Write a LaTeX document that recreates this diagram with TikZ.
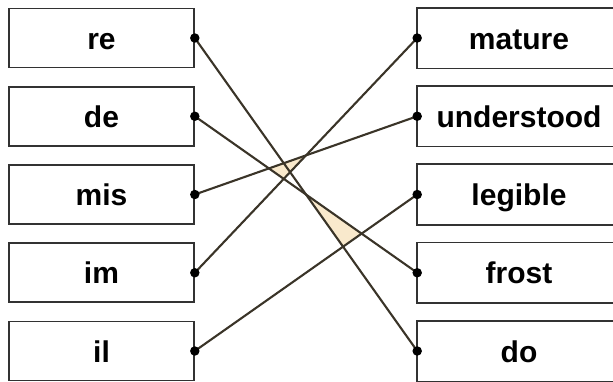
\documentclass[tikz,border=0pt]{standalone}
\usepackage{fontspec}
\setmainfont{Liberation Sans}
\definecolor{boxc}{RGB}{50,50,50}
\definecolor{linec}{RGB}{58,52,40}
\definecolor{beige}{RGB}{249,233,204}
\begin{document}
\begin{tikzpicture}[x=1pt,y=-1pt,
  box/.style={draw=boxc, line width=1.6pt, minimum height=59pt, inner sep=0pt,
    text height=25pt, text depth=3pt, font=\fontsize{30}{36}\selectfont\bfseries},
  lbox/.style={box, minimum width=185pt},
  rbox/.style={box, draw=none, minimum width=202pt},
  boxline/.style={draw=boxc, line width=1.6pt},
  link/.style={draw=linec, line width=2.1pt},
  dotnode/.style={circle, fill=black, inner sep=0pt, minimum size=9.5pt}]
\useasboundingbox (0,0) rectangle (613,381);
% left boxes
\node[lbox] (re)  at (101.5,38)    {re};
\node[lbox] (de)  at (101.5,116.25) {de};
\node[lbox] (mis) at (101.5,194.5) {mis};
\node[lbox] (im)  at (101.5,272.75) {im};
\node[lbox] (il)  at (101.5,351)   {il};
% right boxes (they run past the right edge of the picture)
\node[rbox] (mature)     at (519,38)     {mature};
\node[rbox] (understood) at (519,116.25) {understood};
\node[rbox] (legible)    at (519,194.5)  {legible};
\node[rbox] (frost)      at (519,272.75) {frost};
\node[rbox] (do)         at (519,351)    {do};
\foreach \n in {mature,understood,legible,frost,do}
  \draw[boxline] (\n.north west) rectangle ([xshift=30pt]\n.south east);
% beige areas between crossings
\fill[beige] (intersection of de.east--frost.west and mis.east--understood.west)
  -- (intersection of mis.east--understood.west and im.east--mature.west)
  -- (intersection of im.east--mature.west and de.east--frost.west) -- cycle;
\fill[beige] (intersection of de.east--frost.west and re.east--do.west)
  -- (intersection of de.east--frost.west and il.east--legible.west)
  -- (intersection of re.east--do.west and il.east--legible.west) -- cycle;
% connectors
\draw[link] (re.east) -- (do.west);
\draw[link] (de.east) -- (frost.west);
\draw[link] (mis.east) -- (understood.west);
\draw[link] (im.east) -- (mature.west);
\draw[link] (il.east) -- (legible.west);
% dots
\foreach \n in {re,de,mis,im,il} \node[dotnode] (\n-dot) at (\n.east) {};
\foreach \n in {mature,understood,legible,frost,do} \node[dotnode] (\n-dot) at (\n.west) {};
\end{tikzpicture}
\end{document}
